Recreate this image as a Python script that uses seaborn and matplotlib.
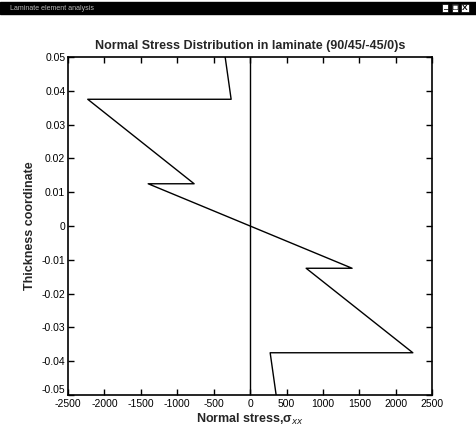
import numpy as np
import pandas as pd
import seaborn as sns
import matplotlib.pyplot as plt
from matplotlib.patches import Rectangle

# Datos (MATLAB, laminado (90/45/-45/0)s)
z = [0.05, 0.0375, 0.0375, 0.0125, 0.0125, -0.0125, -0.0125, -0.0375, -0.0375, -0.05]
stress = [-343, -261, -2230, -769, -1400, 1400, 769, 2234, 275, 357]
xticks = [-2500, -2000, -1500, -1000, -500, 0, 500, 1000, 1500, 2000, 2500]
yticks = [0.05, 0.04, 0.03, 0.02, 0.01, 0, -0.01, -0.02, -0.03, -0.04, -0.05]
ytick_labels = ['0.05', '0.04', '0.03', '0.02', '0.01', '0', '-0.01', '-0.02', '-0.03', '-0.04', '-0.05']

df = pd.DataFrame({'stress': stress, 'z': z})

sns.set_style("ticks")
plt.rcParams['font.family'] = ['Liberation Sans', 'DejaVu Sans']

fig = plt.figure(figsize=(4.76, 4.41), dpi=100)
ax = fig.add_axes([0.143, 0.1043, 0.765, 0.7664])

sns.lineplot(data=df, x='stress', y='z', sort=False, estimator=None,
             color='black', linewidth=1.0, ax=ax)
ax.axvline(0, color='black', linewidth=1.0)

ax.set_xlim(-2500, 2500)
ax.set_ylim(-0.05, 0.05)
ax.set_xticks(xticks)
ax.set_xticklabels([str(t) for t in xticks])
ax.set_yticks(yticks)
ax.set_yticklabels(ytick_labels)
ax.tick_params(direction='in', top=True, right=True, length=4, width=1,
               labelsize=7.5, pad=2, colors='black')
ax.tick_params(axis='x', pad=3)
# -0.05 un poco arriba para no pisar -2500
ax.get_yticklabels()[-1].set_va('bottom')
for s in ax.spines.values():
    s.set_visible(True)
    s.set_linewidth(1.2)
    s.set_color('black')

ax.set_title('Normal Stress Distribution in laminate (90/45/-45/0)s',
             fontsize=9, fontweight='bold', pad=6)
ax.set_xlabel('Normal stress,σ$_{xx}$', fontsize=9, fontweight='bold', labelpad=2)
ax.set_ylabel('Thickness coordinate', fontsize=9, fontweight='bold', labelpad=4)

# Barra de la ventana
fig.patches.append(Rectangle((0, 1 - 14 / 441), 1, 12 / 441, transform=fig.transFigure,
                             color='black', zorder=0))
fig.text(0.02, 1 - 8 / 441, 'Laminate element analysis', color='#bbbbbb',
         fontsize=5, va='center')
for i, sym in enumerate(['_', '□', 'X']):
    fig.text(0.935 + i * 0.021, 1 - 8 / 441, sym, color='black', fontsize=6,
             fontweight='bold', va='center', ha='center',
             bbox=dict(boxstyle='square,pad=0.1', fc='white', ec='black', lw=0.5))

plt.savefig('out.png', dpi=100)
plt.close()
